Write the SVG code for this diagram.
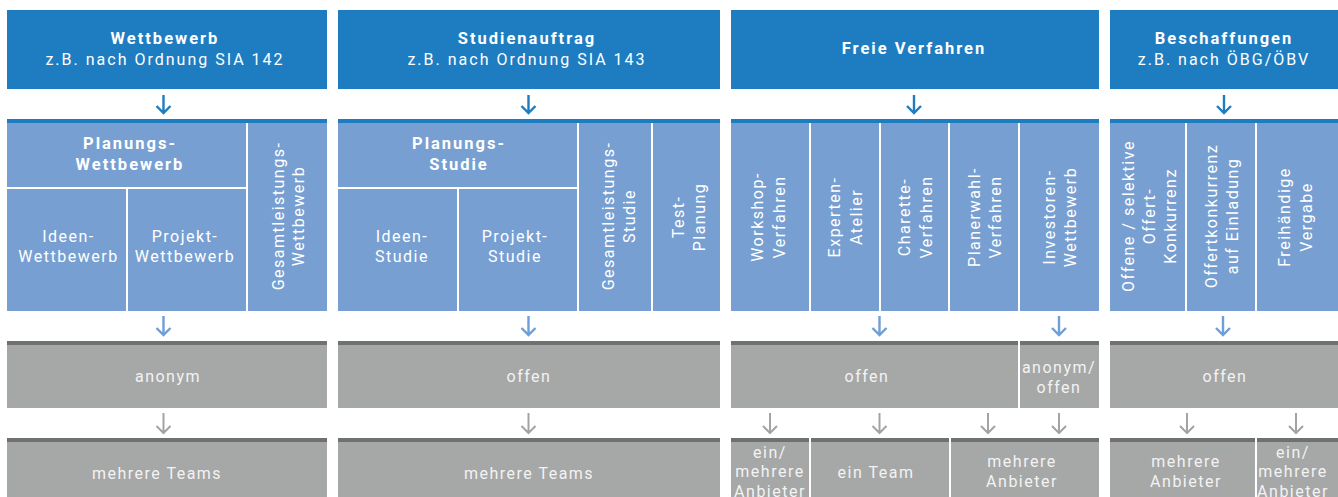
<svg xmlns="http://www.w3.org/2000/svg" width="1338" height="497" viewBox="0 0 1338 497">
  <style>
    .hdr { fill: #1e7dc1; }
    .cell { fill: #779fd2; }
    .bb { fill: #1e7dc1; }
    .grey { fill: #a6a7a7; }
    .bg { fill: #6f7070; }
    text { font-family: Roboto, "Liberation Sans", sans-serif; font-size: 16px; letter-spacing: 1.5px; text-anchor: middle; }
    .w { fill: #ffffff; }
    .g { fill: #f3f3f3; }
    .b { font-weight: bold; font-size: 16.5px; letter-spacing: 2px; }
    .s { letter-spacing: 2px; }
    .arr { fill: none; stroke-width: 2.4; }
    .a1 { stroke: #1e7dc1; }
    .a2 { stroke: #6f9fd8; }
    .a3 { stroke: #a3a3a3; stroke-width: 2; }
  </style>

  <!-- Header boxes -->
  <g id="hdr-wettbewerb">
    <rect class="hdr" x="7" y="10" width="320" height="79"/>
    <text class="w b" x="165" y="44">Wettbewerb</text>
    <text class="w s" x="165" y="65">z.B. nach Ordnung SIA 142</text>
  </g>
  <g id="hdr-studienauftrag">
    <rect class="hdr" x="338" y="10" width="382" height="79"/>
    <text class="w b" x="527" y="44">Studienauftrag</text>
    <text class="w s" x="527" y="65">z.B. nach Ordnung SIA 143</text>
  </g>
  <g id="hdr-freie">
    <rect class="hdr" x="731" y="10" width="368" height="79"/>
    <text class="w b" x="914" y="54">Freie Verfahren</text>
  </g>
  <g id="hdr-beschaffungen">
    <rect class="hdr" x="1110" y="10" width="228" height="79"/>
    <text class="w b" x="1224" y="44">Beschaffungen</text>
    <text class="w s" x="1224" y="65">z.B. nach ÖBG/ÖBV</text>
  </g>

  <!-- Procedure types: blue top bars -->
  <g id="bars-types">
    <rect class="bb" x="7" y="119" width="320" height="4"/>
    <rect class="bb" x="338" y="119" width="382" height="4"/>
    <rect class="bb" x="731" y="119" width="368" height="4"/>
    <rect class="bb" x="1110" y="119" width="228" height="4"/>
  </g>

  <!-- Column 1 types -->
  <g id="planungs-wettbewerb">
    <rect class="cell" x="7" y="123" width="239" height="64"/>
    <text class="w b" x="130" y="149">Planungs-</text>
    <text class="w b" x="130" y="170">Wettbewerb</text>
  </g>
  <g id="ideen-wettbewerb">
    <rect class="cell" x="7" y="189" width="119" height="122"/>
    <text class="w" x="68.5" y="242">Ideen-</text>
    <text class="w" x="68.5" y="262">Wettbewerb</text>
  </g>
  <g id="projekt-wettbewerb">
    <rect class="cell" x="128" y="189" width="118" height="122"/>
    <text class="w" x="185" y="242">Projekt-</text>
    <text class="w" x="185" y="262">Wettbewerb</text>
  </g>
  <g id="gesamtleistungs-wettbewerb">
    <rect class="cell" x="248" y="123" width="79" height="188"/>
    <text class="w" transform="translate(283.5 216) rotate(-90)"><tspan x="0" y="0">Gesamtleistungs-</tspan><tspan x="0" y="20.5">Wettbewerb</tspan></text>
  </g>

  <!-- Column 2 types -->
  <g id="planungs-studie">
    <rect class="cell" x="338" y="123" width="239" height="64"/>
    <text class="w b" x="459" y="149">Planungs-</text>
    <text class="w b" x="459" y="170">Studie</text>
  </g>
  <g id="ideen-studie">
    <rect class="cell" x="338" y="189" width="119" height="122"/>
    <text class="w" x="402" y="242">Ideen-</text>
    <text class="w" x="402" y="262">Studie</text>
  </g>
  <g id="projekt-studie">
    <rect class="cell" x="459" y="189" width="118" height="122"/>
    <text class="w" x="515" y="242">Projekt-</text>
    <text class="w" x="515" y="262">Studie</text>
  </g>
  <g id="gesamtleistungs-studie">
    <rect class="cell" x="579" y="123" width="72" height="188"/>
    <text class="w" transform="translate(614 216) rotate(-90)"><tspan x="0" y="0">Gesamtleistungs-</tspan><tspan x="0" y="20.5">Studie</tspan></text>
  </g>
  <g id="test-planung">
    <rect class="cell" x="653" y="123" width="67" height="188"/>
    <text class="w" transform="translate(684 217) rotate(-90)"><tspan x="0" y="0">Test-</tspan><tspan x="0" y="20.5">Planung</tspan></text>
  </g>

  <!-- Column 3 types -->
  <g id="workshop-verfahren">
    <rect class="cell" x="731" y="123" width="78" height="188"/>
    <text class="w" transform="translate(763 217) rotate(-90)"><tspan x="0" y="0">Workshop-</tspan><tspan x="0" y="21.5">Verfahren</tspan></text>
  </g>
  <g id="experten-atelier">
    <rect class="cell" x="811" y="123" width="68" height="188"/>
    <text class="w" transform="translate(840 217) rotate(-90)"><tspan x="0" y="0">Experten-</tspan><tspan x="0" y="21.5">Atelier</tspan></text>
  </g>
  <g id="charette-verfahren">
    <rect class="cell" x="881" y="123" width="67" height="188"/>
    <text class="w" transform="translate(910 217) rotate(-90)"><tspan x="0" y="0">Charette-</tspan><tspan x="0" y="21.5">Verfahren</tspan></text>
  </g>
  <g id="planerwahl-verfahren">
    <rect class="cell" x="950" y="123" width="68" height="188"/>
    <text class="w" transform="translate(979.5 217) rotate(-90)"><tspan x="0" y="0">Planerwahl-</tspan><tspan x="0" y="21.5">Verfahren</tspan></text>
  </g>
  <g id="investoren-wettbewerb">
    <rect class="cell" x="1020" y="123" width="79" height="188"/>
    <text class="w" transform="translate(1054.5 217) rotate(-90)"><tspan x="0" y="0">Investoren-</tspan><tspan x="0" y="21.5">Wettbewerb</tspan></text>
  </g>

  <!-- Column 4 types -->
  <g id="offertkonkurrenz-offen">
    <rect class="cell" x="1110" y="123" width="75" height="188"/>
    <text class="w" transform="translate(1133.5 216) rotate(-90)"><tspan x="0" y="0">Offene / selektive</tspan><tspan x="0" y="21">Offert-</tspan><tspan x="0" y="42">Konkurrenz</tspan></text>
  </g>
  <g id="offertkonkurrenz-einladung">
    <rect class="cell" x="1187" y="123" width="68" height="188"/>
    <text class="w" transform="translate(1216.5 216) rotate(-90)"><tspan x="0" y="0">Offertkonkurrenz</tspan><tspan x="0" y="21.5">auf Einladung</tspan></text>
  </g>
  <g id="freihaendige-vergabe">
    <rect class="cell" x="1257" y="123" width="81" height="188"/>
    <text class="w" transform="translate(1290 217) rotate(-90)"><tspan x="0" y="0">Freihändige</tspan><tspan x="0" y="21.5">Vergabe</tspan></text>
  </g>

  <!-- Anonymity row -->
  <g id="anon-1">
    <rect class="bg" x="7" y="341" width="320" height="4"/>
    <rect class="grey" x="7" y="345" width="320" height="63"/>
    <text class="g" x="168" y="382">anonym</text>
  </g>
  <g id="anon-2">
    <rect class="bg" x="338" y="341" width="382" height="4"/>
    <rect class="grey" x="338" y="345" width="382" height="63"/>
    <text class="g" x="529" y="382">offen</text>
  </g>
  <g id="anon-3a">
    <rect class="bg" x="731" y="341" width="287" height="4"/>
    <rect class="grey" x="731" y="345" width="287" height="63"/>
    <text class="g" x="867" y="382">offen</text>
  </g>
  <g id="anon-3b">
    <rect class="bg" x="1020" y="341" width="79" height="4"/>
    <rect class="grey" x="1020" y="345" width="79" height="63"/>
    <text class="g" x="1059" y="373">anonym/</text>
    <text class="g" x="1059" y="393">offen</text>
  </g>
  <g id="anon-4">
    <rect class="bg" x="1110" y="341" width="228" height="4"/>
    <rect class="grey" x="1110" y="345" width="228" height="63"/>
    <text class="g" x="1225" y="382">offen</text>
  </g>

  <!-- Participants row -->
  <g id="teams-1">
    <rect class="bg" x="7" y="438" width="320" height="4"/>
    <rect class="grey" x="7" y="442" width="320" height="55"/>
    <text class="g" x="157" y="479">mehrere Teams</text>
  </g>
  <g id="teams-2">
    <rect class="bg" x="338" y="438" width="382" height="4"/>
    <rect class="grey" x="338" y="442" width="382" height="55"/>
    <text class="g" x="529" y="479">mehrere Teams</text>
  </g>
  <g id="teams-3a">
    <rect class="bg" x="731" y="438" width="78" height="4"/>
    <rect class="grey" x="731" y="442" width="78" height="55"/>
    <text class="g" x="770" y="458">ein/</text>
    <text class="g" x="770" y="477">mehrere</text>
    <text class="g" x="770" y="497">Anbieter</text>
  </g>
  <g id="teams-3b">
    <rect class="bg" x="811" y="438" width="138" height="4"/>
    <rect class="grey" x="811" y="442" width="138" height="55"/>
    <text class="g" x="876" y="478">ein Team</text>
  </g>
  <g id="teams-3c">
    <rect class="bg" x="951" y="438" width="148" height="4"/>
    <rect class="grey" x="951" y="442" width="148" height="55"/>
    <text class="g" x="1022" y="467">mehrere</text>
    <text class="g" x="1022" y="487">Anbieter</text>
  </g>
  <g id="teams-4a">
    <rect class="bg" x="1110" y="438" width="145" height="4"/>
    <rect class="grey" x="1110" y="442" width="145" height="55"/>
    <text class="g" x="1186" y="467">mehrere</text>
    <text class="g" x="1186" y="487">Anbieter</text>
  </g>
  <g id="teams-4b">
    <rect class="bg" x="1257" y="438" width="81" height="4"/>
    <rect class="grey" x="1257" y="442" width="81" height="55"/>
    <text class="g" x="1293" y="458">ein/</text>
    <text class="g" x="1293" y="477">mehrere</text>
    <text class="g" x="1293" y="497">Anbieter</text>
  </g>

  <!-- Connectors: down arrows between rows -->
  <g id="connectors">
    <path class="arr a1" d="M163.5 95V113M156.5 106L163.5 113L170.5 106"/>
    <path class="arr a1" d="M528.5 95V113M521.5 106L528.5 113L535.5 106"/>
    <path class="arr a1" d="M914 95V113M907 106L914 113L921 106"/>
    <path class="arr a1" d="M1224 95V113M1217 106L1224 113L1231 106"/>

    <path class="arr a2" d="M163.5 316V335M156.5 328L163.5 335L170.5 328"/>
    <path class="arr a2" d="M528.5 316V335M521.5 328L528.5 335L535.5 328"/>
    <path class="arr a2" d="M879.5 316V335M872.5 328L879.5 335L886.5 328"/>
    <path class="arr a2" d="M1059 316V335M1052 328L1059 335L1066 328"/>
    <path class="arr a2" d="M1223 316V335M1216 328L1223 335L1230 328"/>

    <path class="arr a3" d="M163.5 413V433M156.5 426L163.5 433L170.5 426"/>
    <path class="arr a3" d="M528.5 413V433M521.5 426L528.5 433L535.5 426"/>
    <path class="arr a3" d="M770 413V433M763 426L770 433L777 426"/>
    <path class="arr a3" d="M879.5 413V433M872.5 426L879.5 433L886.5 426"/>
    <path class="arr a3" d="M988 413V433M981 426L988 433L995 426"/>
    <path class="arr a3" d="M1059 413V433M1052 426L1059 433L1066 426"/>
    <path class="arr a3" d="M1187 413V433M1180 426L1187 433L1194 426"/>
    <path class="arr a3" d="M1296 413V433M1289 426L1296 433L1303 426"/>
  </g>
</svg>
